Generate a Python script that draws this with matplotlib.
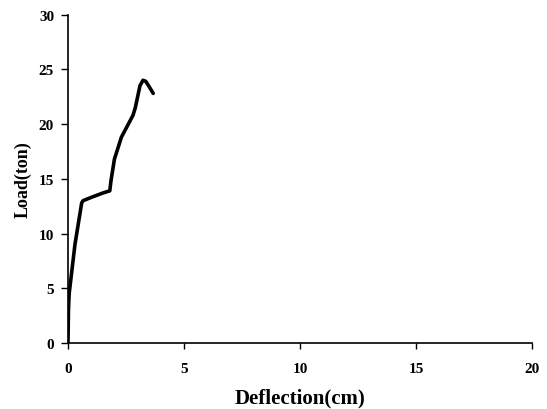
import matplotlib.pyplot as plt

# load-deflection curve
deflection = [0.0, 0.02, 0.05, 0.3, 0.59, 0.65, 1.0, 1.5, 1.8, 1.85, 2.0, 2.3, 2.8, 2.9, 3.1, 3.23, 3.35, 3.5, 3.67]
load = [0.0, 3.0, 4.5, 9.0, 12.8, 13.0, 13.3, 13.7, 13.9, 14.8, 16.8, 18.8, 20.8, 21.5, 23.5, 24.0, 23.9, 23.4, 22.8]

x_ticks = [0, 5, 10, 15, 20]
y_ticks = [0, 5, 10, 15, 20, 25, 30]

plt.rcParams['font.family'] = ['Liberation Serif', 'DejaVu Serif']
plt.rcParams['font.weight'] = 'bold'

fig = plt.figure(figsize=(5.47, 4.1), dpi=100)
ax = fig.add_axes([0.1243, 0.161, 0.849, 0.801])

ax.plot(deflection, load, color='black', linewidth=2.6, solid_capstyle='round', solid_joinstyle='round')

ax.set_xlim(0, 20)
ax.set_ylim(0, 30)
ax.set_xticks(x_ticks)
ax.set_yticks(y_ticks)
ax.spines['top'].set_visible(False)
ax.spines['right'].set_visible(False)
for s in ['left', 'bottom']:
    ax.spines[s].set_linewidth(1.2)

ax.tick_params(axis='x', direction='out', length=4, width=1.0, pad=10, labelsize=11)
ax.tick_params(axis='y', direction='out', length=5, width=1.0, pad=5, labelsize=11)
for lbl in ax.get_xticklabels() + ax.get_yticklabels():
    lbl.set_fontweight('bold')

ax.set_xlabel('Deflection(cm)', fontsize=15, fontweight='bold', labelpad=9)
ax.set_ylabel('Load(ton)', fontsize=13, fontweight='bold', labelpad=5)

fig.savefig('out.png', dpi=100)
